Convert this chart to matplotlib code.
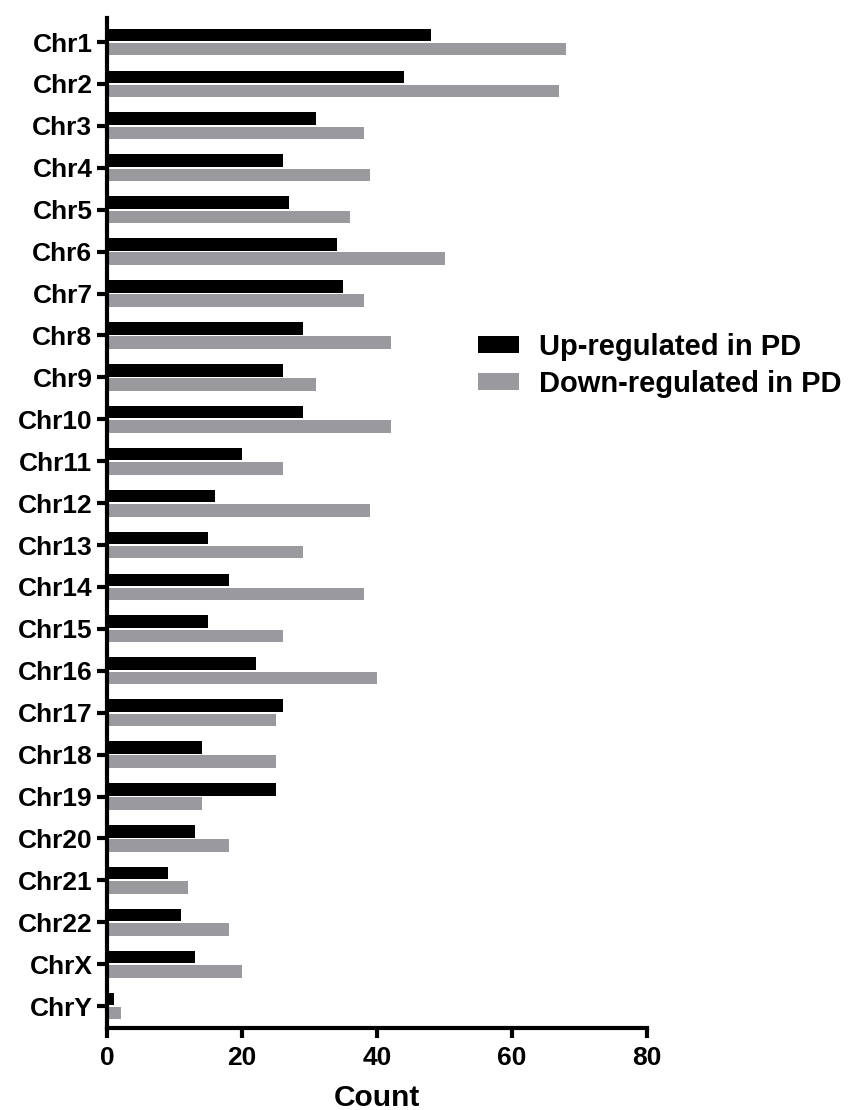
import matplotlib.pyplot as plt
import numpy as np

plt.rcParams['font.family'] = ['Liberation Sans', 'DejaVu Sans']
plt.rcParams['font.weight'] = 'bold'

chroms = ['Chr1', 'Chr2', 'Chr3', 'Chr4', 'Chr5', 'Chr6', 'Chr7', 'Chr8', 'Chr9',
          'Chr10', 'Chr11', 'Chr12', 'Chr13', 'Chr14', 'Chr15', 'Chr16', 'Chr17',
          'Chr18', 'Chr19', 'Chr20', 'Chr21', 'Chr22', 'ChrX', 'ChrY']
up_counts = [48, 44, 31, 26, 27, 34, 35, 29, 26, 29, 20, 16, 15, 18, 15, 22, 26,
             14, 25, 13, 9, 11, 13, 1]
down_counts = [68, 67, 38, 39, 36, 50, 38, 42, 31, 42, 26, 39, 29, 38, 26, 40, 25,
               25, 14, 18, 12, 18, 20, 2]

fig = plt.figure(figsize=(8.52, 11.10), dpi=100)
ax = fig.add_axes([0.1256, 0.074, 0.634, 0.91])

y = np.arange(len(chroms))
h = 0.3
ax.barh(y - 0.17, up_counts, height=h, color='black', label='Up-regulated in PD')
ax.barh(y + 0.17, down_counts, height=h, color='#9a9a9e', label='Down-regulated in PD')

ax.set_xlim(0, 80)
ax.set_ylim(23.52, -0.58)
ax.set_yticks(y)
ax.set_yticklabels(chroms)
ax.set_xticks([0, 20, 40, 60, 80])

for s in ['top', 'right']:
    ax.spines[s].set_visible(False)
for s in ['left', 'bottom']:
    ax.spines[s].set_linewidth(3)
ax.tick_params(axis='both', width=3, length=7, labelsize=19)
ax.tick_params(axis='y', pad=3.5)
ax.tick_params(axis='x', pad=6)
ax.set_xlabel('Count', fontsize=21.5, fontweight='bold', labelpad=10)

fig.legend(loc='center left', bbox_to_anchor=(0.561, 0.671), frameon=False,
           fontsize=21, handlelength=1.4, handleheight=0.5, handletextpad=0.7,
           labelspacing=0.3, borderpad=0, borderaxespad=0)

fig.savefig('out.png', dpi=100)
